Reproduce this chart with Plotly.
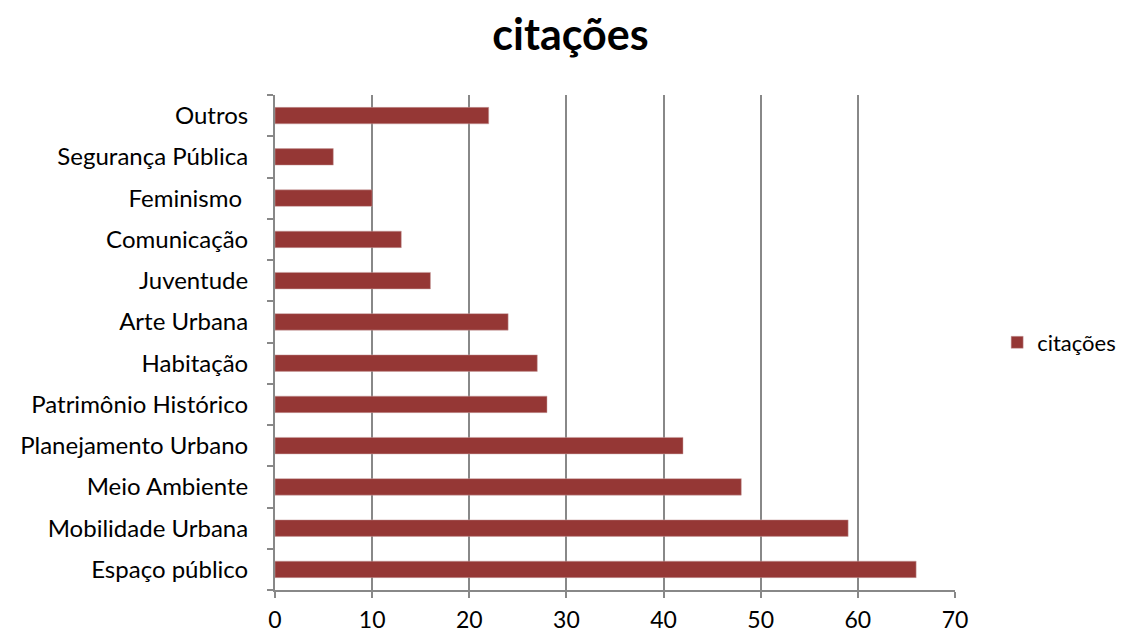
import plotly.graph_objects as go

categories = ["Espaço público", "Mobilidade Urbana", "Meio Ambiente", "Planejamento Urbano",
              "Patrimônio Histórico", "Habitação", "Arte Urbana", "Juventude", "Comunicação",
              "Feminismo\u00a0", "Segurança Pública", "Outros"]
values = [66, 59, 48, 42, 28, 27, 24, 16, 13, 10, 6, 22]
series_name = "citações"
x_ticks = [0, 10, 20, 30, 40, 50, 60, 70]

FONT = "Lato"
fig = go.Figure()
fig.add_trace(go.Bar(
    y=categories, x=values, orientation="h", name=series_name,
    marker=dict(color="#953735", line=dict(color="#c9a0a0", width=0.5)),
    showlegend=True,
))

fig.update_layout(
    width=1123, height=633,
    margin=dict(l=275, r=168, t=95, b=43, autoexpand=False),
    paper_bgcolor="white", plot_bgcolor="white",
    bargap=0.6,
    title=dict(text="<b>citações</b>", x=0.508, xanchor="center", y=0.945, yanchor="middle",
               font=dict(family=FONT, size=43, color="black")),
    font=dict(family=FONT, size=24, color="black"),
    legend=dict(x=1.062, y=0.5, xanchor="left", yanchor="middle",
                font=dict(family=FONT, size=22, color="black"),
                itemwidth=30, bgcolor="rgba(0,0,0,0)"),
    xaxis=dict(range=[0, 70], tickvals=x_ticks, showgrid=True, gridcolor="#888888", gridwidth=2,
               showline=True, linecolor="#888888", linewidth=2, ticks="outside", ticklen=6,
               tickcolor="#888888", tickwidth=2, zeroline=False, tickfont=dict(size=23),
               ticklabelstandoff=2, fixedrange=True),
    yaxis=dict(categoryorder="array", categoryarray=categories, showgrid=False,
               showline=True, linecolor="#888888", linewidth=2, ticks="outside", ticklen=6,
               tickcolor="#888888", tickwidth=2, tickson="boundaries", ticklabelstandoff=20,
               tickfont=dict(size=24)),
)

fig.write_html("out.html")
